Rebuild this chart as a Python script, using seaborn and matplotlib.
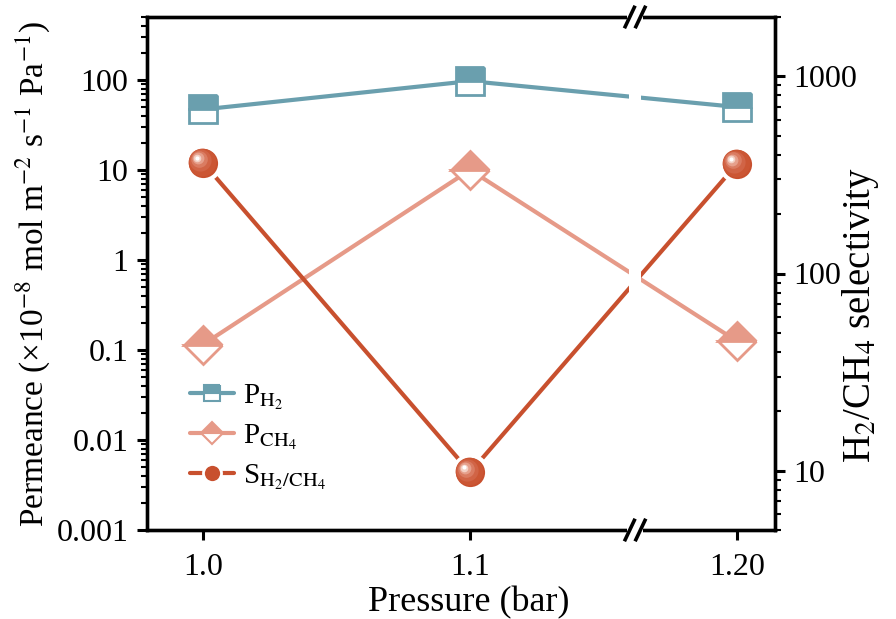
import numpy as np
import pandas as pd
import matplotlib
matplotlib.use("Agg")
import matplotlib.pyplot as plt
import matplotlib.transforms as mtransforms
from matplotlib.lines import Line2D
from matplotlib.patches import Rectangle
from matplotlib.ticker import LogLocator, NullFormatter, FixedLocator
import seaborn as sns

# Data
pressure_labels = ["1.0", "1.1", "1.20"]
p_h2 = [47, 97, 50]            # H2 permeance (x1e-8 mol m-2 s-1 Pa-1)
p_ch4 = [0.115, 10, 0.125]     # CH4 permeance
s_h2_ch4 = [365, 9.8, 360]     # H2/CH4 selectivity

left_ticks = [0.001, 0.01, 0.1, 1, 10, 100]
left_tick_labels = ["0.001", "0.01", "0.1", "1", "10", "100"]
right_ticks = [10, 100, 1000]
right_tick_labels = ["10", "100", "1000"]

teal = "#6A9FAE"
salmon = "#E69A88"
rust = "#C8502E"

sns.set_theme(style="ticks")
plt.rcParams["font.family"] = ["Liberation Serif", "DejaVu Serif"]
plt.rcParams["mathtext.fontset"] = "stix"
plt.rcParams["text.color"] = "black"
plt.rcParams["axes.labelcolor"] = "black"

fig = plt.figure(figsize=(8.96, 6.19), dpi=100)
ax = fig.add_axes([147 / 896, 1 - 530 / 619, (775 - 147) / 896, (530 - 17) / 619])
ax2 = ax.twinx()

x = np.arange(len(pressure_labels))
df = pd.DataFrame({"x": x, "p_h2": p_h2, "p_ch4": p_ch4, "s": s_h2_ch4})

# connecting lines
sns.lineplot(data=df, x="x", y="p_h2", ax=ax, color=teal, lw=3, zorder=2)
sns.lineplot(data=df, x="x", y="p_ch4", ax=ax, color=salmon, lw=3, zorder=2)
sns.lineplot(data=df, x="x", y="s", ax=ax2, color=rust, lw=3, zorder=2)

# gap in the lines where the x axis is broken
x_break = 1.618
for a in (ax, ax2):
    a.add_patch(Rectangle((x_break - 0.022, 0.004), 0.044, 0.992,
                          transform=mtransforms.blended_transform_factory(a.transData, a.transAxes),
                          facecolor="white", edgecolor="none", zorder=2.2))

# half-filled markers
sq_kw = dict(ls="none", marker="s", ms=20, fillstyle="top", markerfacecolor=teal,
             markerfacecoloralt="white", markeredgecolor=teal, markeredgewidth=2)
di_kw = dict(ls="none", marker="D", ms=19, fillstyle="top", markerfacecolor=salmon,
             markerfacecoloralt="white", markeredgecolor=salmon, markeredgewidth=2)
ax.plot(x, p_h2, zorder=4, **sq_kw)
ax.plot(x, p_ch4, zorder=4, **di_kw)

# shaded spheres
ax2.plot(x, s_h2_ch4, ls="none", marker="o", ms=24, markerfacecolor=rust,
         markeredgecolor="white", markeredgewidth=3, zorder=4)
shading = [(-1.0, 0.8, 20, "#CB5634"), (-2.0, 1.6, 16, "#D16446"),
           (-3.0, 2.4, 12, "#DA7C62"), (-3.8, 3.0, 8.5, "#E6A08C"),
           (-4.3, 3.4, 5.5, "#F3D0C4"), (-4.5, 3.6, 3.0, "#FFFFFF")]
for dx, dy, ms, col in shading:
    tr = mtransforms.offset_copy(ax2.transData, fig=fig, x=dx, y=dy, units="points")
    ax2.plot(x, s_h2_ch4, ls="none", marker="o", ms=ms, markerfacecolor=col,
             markeredgecolor="none", transform=tr, zorder=4.1)

# axes scales and ticks
ax.set_yscale("log")
ax.set_ylim(1e-3, 500)
ax.yaxis.set_major_locator(FixedLocator(left_ticks))
ax.set_yticklabels(left_tick_labels)
ax.yaxis.set_minor_locator(LogLocator(base=10, subs=np.arange(2, 10), numticks=20))
ax.yaxis.set_minor_formatter(NullFormatter())

ax2.set_yscale("log")
ax2.set_ylim(5, 2000)
ax2.yaxis.set_major_locator(FixedLocator(right_ticks))
ax2.set_yticklabels(right_tick_labels)
ax2.yaxis.set_minor_locator(LogLocator(base=10, subs=np.arange(2, 10), numticks=20))
ax2.yaxis.set_minor_formatter(NullFormatter())

ax.set_xlim(-0.21, 2.142)
ax.set_xticks(x)
ax.set_xticklabels(pressure_labels)

for a in (ax, ax2):
    for s in a.spines.values():
        s.set_linewidth(2.4)
        s.set_color("black")
    a.tick_params(which="major", direction="out", length=7.5, width=2.2,
                  labelsize=23, color="black", labelcolor="black", pad=6)
    a.tick_params(which="minor", direction="out", length=4.5, width=1.5, color="black")
ax.tick_params(axis="x", which="minor", bottom=False)
ax.tick_params(axis="x", which="major", pad=9)

ax.set_xlabel("Pressure (bar)", fontsize=26)
ax.set_ylabel("Permeance (\u00d710$^{-8}$ mol m$^{-2}$ s$^{-1}$ Pa$^{-1}$)", fontsize=24)
ax2.set_ylabel("H$_2$/CH$_4$ selectivity", fontsize=28)
ax.xaxis.set_label_coords(0.513, -0.11)
ax.yaxis.set_label_coords(-0.152, 0.5)
ax2.yaxis.set_label_coords(1.103, 0.42)

# axis break marks on the top and bottom spines
brk = mtransforms.blended_transform_factory(ax2.transData, ax2.transAxes)
for yb in (0.0, 1.0):
    ax2.add_patch(Rectangle((x_break - 0.03, yb - 0.01), 0.06, 0.02, transform=brk,
                            facecolor="white", edgecolor="none", clip_on=False, zorder=6))
    for dx in (-0.02, 0.02):
        ax2.plot([x_break + dx - 0.02, x_break + dx + 0.02], [yb - 0.022, yb + 0.022],
                 transform=brk, color="black", lw=2.6, clip_on=False, zorder=7,
                 solid_capstyle="butt")

# legend
handles = [
    Line2D([], [], color=teal, lw=3, marker="s", ms=11.5, fillstyle="top",
           markerfacecolor=teal, markerfacecoloralt="white", markeredgecolor=teal, markeredgewidth=1.5),
    Line2D([], [], color=salmon, lw=3, marker="D", ms=11.5, fillstyle="top",
           markerfacecolor=salmon, markerfacecoloralt="white", markeredgecolor=salmon, markeredgewidth=1.5),
    Line2D([], [], color=rust, lw=3, marker="o", ms=13,
           markerfacecolor=rust, markeredgecolor="white", markeredgewidth=2),
]
labels = ["P$_{\\mathrm{H_2}}$", "P$_{\\mathrm{CH_4}}$", "S$_{\\mathrm{H_2/CH_4}}$"]
leg = ax2.legend(handles, labels, loc="upper left", bbox_to_anchor=(0.05, 0.31),
                 frameon=False, fontsize=21, handlelength=1.5, handletextpad=0.3,
                 labelspacing=0.35, borderaxespad=0)
leg.set_zorder(8)

fig.savefig("out.png", dpi=100)
